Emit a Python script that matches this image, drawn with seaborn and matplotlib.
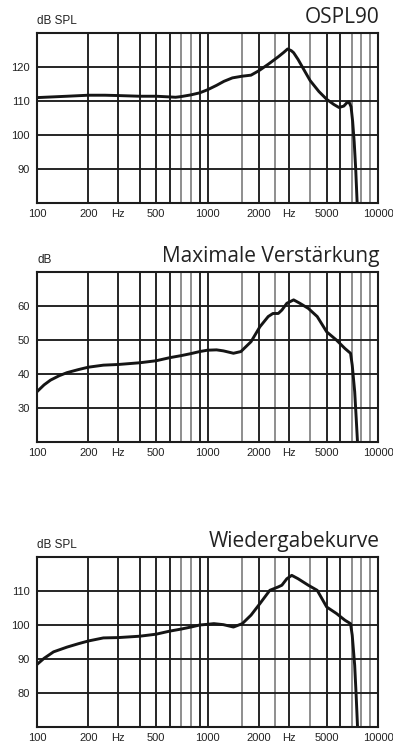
import matplotlib
matplotlib.use("Agg")
import matplotlib.pyplot as plt
import seaborn as sns

# ---- data -------------------------------------------------------------
ospl_freq = [100, 150, 200, 250, 300, 400, 500, 600, 650, 700, 800, 900,
             1000, 1130, 1250, 1400, 1600, 1800, 2000, 2270, 2600, 2800,
             2950, 3100, 3200, 3400, 3600, 4000, 4500, 5000, 5500, 5900,
             6300, 6600, 6750, 6950, 7100, 7250, 7400, 7560]
ospl_db = [111.0, 111.4, 111.7, 111.7, 111.6, 111.4, 111.4, 111.2, 111.1,
           111.3, 111.8, 112.4, 113.3, 114.6, 115.8, 116.8, 117.3, 117.6,
           118.9, 120.8, 123.0, 124.3, 125.3, 124.8, 124.2, 122.2, 120.0,
           116.0, 112.8, 110.5, 109.0, 108.1, 108.5, 109.6, 109.8, 108.3,
           104.0, 98.0, 90.0, 79.0]

gain_freq = [100, 110, 120, 135, 150, 175, 200, 245, 300, 400, 500, 600,
             700, 800, 900, 1000, 1130, 1240, 1420, 1570, 1800, 2030, 2270,
             2420, 2600, 2730, 2920, 3200, 3480, 3900, 4400, 5000, 5700,
             6400, 6900, 7060, 7300, 7450, 7600]
gain_db = [34.8, 36.8, 38.2, 39.5, 40.4, 41.3, 42.0, 42.6, 42.8, 43.3, 43.9,
           44.8, 45.4, 46.0, 46.6, 47.0, 47.1, 46.8, 46.1, 46.6, 49.5, 53.9,
           56.9, 57.8, 57.8, 58.8, 60.8, 61.8, 60.8, 59.3, 56.9, 52.4, 50.0,
           47.5, 46.1, 42.6, 34.8, 27.0, 19.0]

resp_freq = [100, 110, 125, 150, 175, 200, 245, 300, 400, 500, 600, 700,
             800, 900, 1000, 1090, 1240, 1420, 1600, 1800, 2030, 2320, 2600,
             2730, 2920, 3120, 3400, 3900, 4400, 5000, 5700, 6400, 6900,
             7060, 7300, 7450, 7600]
resp_db = [88.4, 90.2, 92.1, 93.5, 94.5, 95.3, 96.2, 96.3, 96.7, 97.3, 98.2,
           98.8, 99.4, 100.0, 100.2, 100.4, 100.1, 99.4, 100.4, 102.9, 106.3,
           110.2, 111.2, 111.7, 113.6, 114.6, 113.6, 111.7, 110.2, 105.3,
           103.4, 101.4, 100.4, 97.0, 88.1, 79.0, 69.0]

titles = ["OSPL90", "Maximale Verstärkung", "Wiedergabekurve"]
units = ["dB SPL", "dB", "dB SPL"]
y_limits = [(80, 130), (20, 70), (70, 120)]
y_ticks = [[90, 100, 110, 120], [30, 40, 50, 60], [80, 90, 100, 110]]

x_tick_values = [100, 200, 300, 500, 1000, 2000, 3000, 5000, 10000]
x_tick_labels = ["100", "200", "Hz", "500", "1000", "2000", "Hz", "5000", "10000"]

grid_dark = [200, 300, 400, 500, 600, 900, 1000, 2000, 3000, 5000, 6000]
grid_light = [700, 800, 1600, 2500, 4000, 7000, 8000, 9000]

# ---- styling ----------------------------------------------------------
sns.set_theme(style="white")
plt.rcParams["font.family"] = ["Liberation Sans Narrow", "Liberation Sans", "DejaVu Sans"]

fig = plt.figure(figsize=(3.93, 7.46), dpi=100)
W, H = 393, 746
# axes boxes in pixels: left, top, right, bottom
boxes = [(37, 33, 378, 203), (37, 272, 378, 442), (37, 557, 378, 727)]

curves = [(ospl_freq, ospl_db), (gain_freq, gain_db), (resp_freq, resp_db)]
dark = "#1c1c1c"
light = "#8a8a8a"
text_col = "#222222"

for (l, t, r, b), (fx, fy), title, unit, ylim, yt in zip(
        boxes, curves, titles, units, y_limits, y_ticks):
    ax = fig.add_axes([l / W, (H - b) / H, (r - l) / W, (b - t) / H])
    ax.set_xscale("log")
    ax.set_xlim(100, 10000)
    ax.set_ylim(*ylim)

    for f in grid_light:
        ax.axvline(f, color=light, lw=1.35, zorder=1)
    for f in grid_dark:
        ax.axvline(f, color=dark, lw=1.35, zorder=1)
    for v in yt:
        ax.axhline(v, color=dark, lw=1.35, zorder=1)

    sns.lineplot(x=fx, y=fy, ax=ax, color="#151515", lw=2.1, zorder=3)

    ax.set_xticks(x_tick_values)
    ax.set_xticklabels(x_tick_labels)
    ax.xaxis.set_minor_locator(matplotlib.ticker.NullLocator())
    ax.set_yticks(yt)
    ax.set_yticklabels([str(v) for v in yt])
    ax.tick_params(axis="both", length=0, labelsize=8, colors=text_col)
    ax.tick_params(axis="x", pad=4)
    ax.tick_params(axis="y", pad=5)
    ax.set_xlabel("")
    ax.set_ylabel("")
    for s in ax.spines.values():
        s.set_visible(True)
        s.set_color(dark)
        s.set_linewidth(1.5)
        s.set_zorder(4)

    ax.annotate(unit, xy=(0, 1), xycoords="axes fraction",
                xytext=(0, 4.5), textcoords="offset points",
                ha="left", va="bottom", fontsize=8.5, color=text_col)
    ax.annotate(title, xy=(1, 1), xycoords="axes fraction",
                xytext=(1, 7), textcoords="offset points",
                ha="right", va="baseline", fontsize=15, color=text_col,
                family=["Open Sans", "DejaVu Sans"])

fig.savefig("out.png", dpi=100)
